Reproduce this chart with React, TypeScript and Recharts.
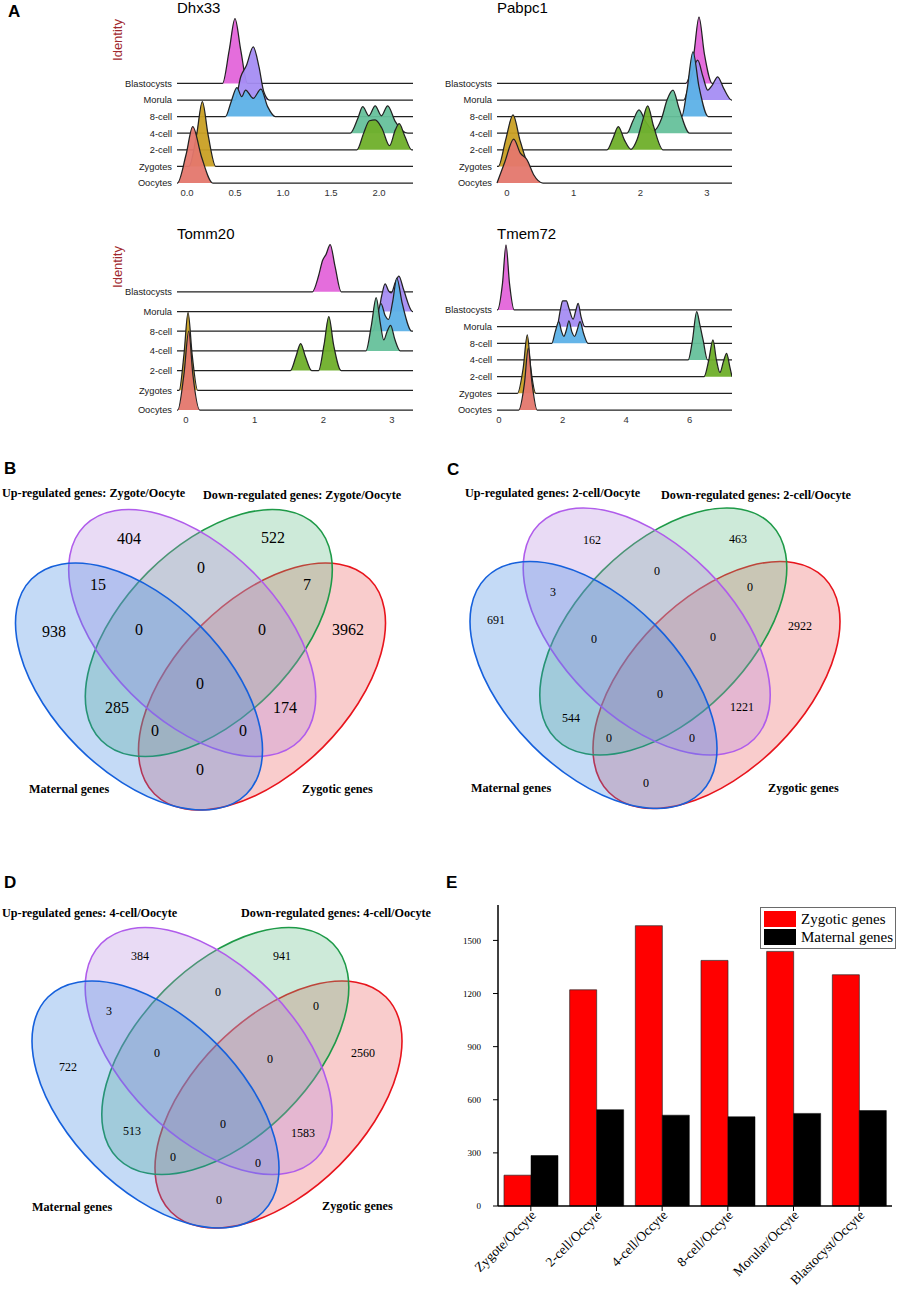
import React from 'react';
import { ComposedChart, Area, XAxis, YAxis, ScatterChart, Scatter, BarChart, Bar, Legend } from 'recharts';

const SANS = '"Liberation Sans", Arial, Helvetica, sans-serif';
const SERIF = '"Liberation Serif", "Times New Roman", Times, serif';

// ---------------- Panel A : ridge plots ----------------
const GROUPS = ['Oocytes', 'Zygotes', '2-cell', '4-cell', '8-cell', 'Morula', 'Blastocysts'];
const GROUP_COLORS = ['#E4776D', '#C9A024', '#6FAF2A', '#66C19B', '#5DB1E7', '#A58DF3', '#E365DA'];

const DHX33_TICKS = [0, 0.5, 1, 1.5, 2];
const PABPC1_TICKS = [0, 1, 2, 3];
const TOMM20_TICKS = [0, 1, 2, 3];
const TMEM72_TICKS = [0, 2, 4, 6];

const DHX33_DOMAIN = [-0.104, 2.354];
const PABPC1_DOMAIN = [-0.15, 3.375];
const TOMM20_DOMAIN = [-0.131, 3.306];
const TMEM72_DOMAIN = [-0.063, 7.33];

// density outlines [expression, height in rows] per group (Oocytes .. Blastocysts)
const DHX33 = [
  [[-0.1, 0], [-0.01, 1.7], [0.06, 3.4], [0.15, 1.6], [0.27, 0]],
  [[0.02, 0], [0.1, 1.9], [0.16, 3.9], [0.22, 1.9], [0.3, 0]],
  [[1.77, 0], [1.84, 1.0], [1.9, 1.75], [1.96, 1.8], [2.03, 1.3], [2.11, 0.25], [2.17, 1.2], [2.21, 1.57], [2.27, 0.8], [2.34, 0]],
  [[1.7, 0], [1.78, 0.9], [1.83, 1.6], [1.895, 1.05], [1.96, 1.65], [2.025, 1.05], [2.09, 1.65], [2.17, 0.7], [2.3, 0]],
  [[0.4, 0], [0.46, 0.9], [0.52, 1.75], [0.57, 1.2], [0.61, 1.6], [0.69, 1.1], [0.77, 1.65], [0.84, 0.6], [0.92, 0]],
  [[0.5, 0], [0.56, 1.4], [0.62, 2.1], [0.69, 3.2], [0.75, 2.0], [0.8, 0.5], [0.86, 0]],
  [[0.37, 0], [0.44, 2.0], [0.5, 3.9], [0.56, 2.0], [0.63, 0]],
];
const PABPC1 = [
  [[-0.15, 0], [-0.03, 1.3], [0.1, 2.65], [0.2, 1.8], [0.3, 1.4], [0.4, 0.5], [0.54, 0]],
  [[-0.13, 0], [-0.02, 1.6], [0.09, 3.1], [0.2, 1.5], [0.35, 0]],
  [[1.5, 0], [1.59, 0.7], [1.67, 1.4], [1.76, 0.6], [1.86, 0.03], [1.95, 0.6], [2.03, 1.7], [2.11, 2.65], [2.2, 1.4], [2.34, 0]],
  [[1.8, 0], [1.89, 0.75], [1.98, 1.4], [2.08, 0.7], [2.2, 0.15], [2.32, 0.9], [2.4, 2.0], [2.49, 2.6], [2.58, 1.5], [2.74, 0]],
  [[2.62, 0], [2.7, 1.6], [2.79, 3.9], [2.88, 1.8], [3.02, 0]],
  [[2.65, 0], [2.75, 1.2], [2.86, 2.4], [2.94, 1.4], [3.01, 0.6], [3.08, 0.9], [3.16, 1.4], [3.25, 0.7], [3.37, 0]],
  [[2.68, 0], [2.8, 1.7], [2.88, 4.0], [2.96, 1.8], [3.08, 0]],
];
const TOMM20 = [
  [[-0.12, 0], [-0.03, 1.8], [0.04, 4.0], [0.1, 1.8], [0.2, 0]],
  [[-0.1, 0], [-0.03, 1.8], [0.03, 3.95], [0.09, 1.8], [0.17, 0]],
  [[1.52, 0], [1.6, 0.7], [1.67, 1.37], [1.74, 0.7], [1.83, 0], [1.93, 0], [2.01, 1.3], [2.08, 2.74], [2.15, 1.3], [2.26, 0]],
  [[2.62, 0], [2.7, 1.3], [2.77, 2.7], [2.83, 1.4], [2.88, 0.56], [2.93, 1.0], [2.98, 1.3], [3.04, 0.6], [3.12, 0]],
  [[2.72, 0], [2.78, 0.7], [2.84, 1.4], [2.9, 0.8], [2.95, 0.6], [3.01, 1.5], [3.07, 2.7], [3.15, 1.4], [3.29, 0]],
  [[2.8, 0], [2.85, 0.8], [2.9, 1.4], [2.95, 1.05], [2.99, 0.95], [3.05, 1.5], [3.1, 1.8], [3.17, 1.1], [3.3, 0]],
  [[1.84, 0], [1.93, 0.8], [1.99, 1.6], [2.04, 1.9], [2.1, 2.4], [2.17, 1.3], [2.26, 0]],
];
const TMEM72 = [
  [[0.62, 0], [0.8, 1.6], [0.92, 3.7], [1.04, 1.6], [1.2, 0]],
  [[0.58, 0], [0.76, 1.5], [0.89, 3.5], [1.0, 1.5], [1.16, 0]],
  [[6.45, 0], [6.6, 1.0], [6.73, 2.2], [6.84, 1.0], [6.95, 0.25], [7.06, 0.9], [7.16, 1.4], [7.26, 0.6], [7.33, 0]],
  [[5.95, 0], [6.08, 1.1], [6.22, 2.9], [6.32, 2.1], [6.42, 1.2], [6.56, 0]],
  [[1.66, 0], [1.77, 0.7], [1.88, 1.3], [1.97, 0.7], [2.04, 0.42], [2.12, 0.8], [2.2, 1.35], [2.29, 0.7], [2.38, 0.42], [2.46, 0.8], [2.55, 1.3], [2.66, 0.6], [2.8, 0]],
  [[1.82, 0], [1.93, 1.0], [2.0, 1.55], [2.12, 1.55], [2.2, 1.1], [2.33, 0.45], [2.42, 1.0], [2.49, 1.4], [2.58, 0.6], [2.7, 0]],
  [[-0.05, 0], [0.11, 1.6], [0.22, 3.9], [0.33, 1.6], [0.48, 0]],
];

// ---------------- Panels B, C, D : Venn diagrams ----------------
const SET_COLORS = [
  { stroke: '#1560DC', fill: '#3A84E1' }, // Maternal
  { stroke: '#B05CEB', fill: '#B687DE' }, // Up
  { stroke: '#1E9A48', fill: '#58B980' }, // Down
  { stroke: '#E8141C', fill: '#EB5555' }, // Zygotic
];
const ELLIPSE_GEOM = [
  { dx: -61.5, dy: 53.5, angle: 45 },
  { dx: -8.3, dy: 0, angle: 45 },
  { dx: 8.3, dy: 0, angle: -45 },
  { dx: 61.5, dy: 53.5, angle: -45 },
];
const ELLIPSE_RX = 152;
const ELLIPSE_RY = 86;
const DRAW_ORDER = [3, 2, 1, 0];

const VENN_B_NAMES = ['Up-regulated genes: Zygote/Oocyte', 'Down-regulated genes: Zygote/Oocyte', 'Maternal genes', 'Zygotic genes'];
const VENN_C_NAMES = ['Up-regulated genes: 2-cell/Oocyte', 'Down-regulated genes: 2-cell/Oocyte', 'Maternal genes', 'Zygotic genes'];
const VENN_D_NAMES = ['Up-regulated genes: 4-cell/Oocyte', 'Down-regulated genes: 4-cell/Oocyte', 'Maternal genes', 'Zygotic genes'];

const VENN_B_COUNTS = [404, 522, 0, 15, 7, 938, 0, 0, 3962, 0, 285, 174, 0, 0, 0];
const VENN_C_COUNTS = [162, 463, 0, 3, 0, 691, 0, 0, 2922, 0, 544, 1221, 0, 0, 0];
const VENN_D_COUNTS = [384, 941, 0, 3, 0, 722, 0, 0, 2560, 0, 513, 1583, 0, 0, 0];

// layout (page pixels)
const VENN_B_LAYOUT = {
  box: { x: 0, y: 450, w: 440, h: 390 }, center: [200.5, 633], countSize: 16,
  countPos: [[129, 538], [273, 537], [201, 567], [98, 584], [307, 584], [54, 631], [139, 629], [262, 629], [348, 629], [200, 683], [117, 707], [285, 707], [155, 730], [243, 730], [200, 769]],
  namePos: [[2, 493], [203, 495], [29, 789], [302, 789]],
};
const VENN_C_LAYOUT = {
  box: { x: 440, y: 450, w: 460, h: 390 }, center: [655, 631.5], countSize: 12,
  countPos: [[592, 540], [738, 539], [657, 571], [553, 592], [750, 587], [496, 620], [594, 639], [713, 637], [800, 626], [660, 694], [571, 718], [742, 707], [609, 738], [692, 738], [646, 783]],
  namePos: [[465, 493], [661, 495], [471, 788], [768, 788]],
};
const VENN_D_LAYOUT = {
  box: { x: 0, y: 860, w: 440, h: 400 }, center: [217, 1051], countSize: 12,
  countPos: [[140, 956], [282, 956], [218, 992], [109, 1011], [316, 1006], [68, 1067], [157, 1053], [270, 1059], [363, 1053], [223, 1124], [132, 1131], [303, 1133], [173, 1157], [258, 1163], [219, 1200]],
  namePos: [[2, 913], [241, 913], [32, 1207], [322, 1206]],
};

// ---------------- Panel E : bar chart ----------------
const BAR_CATEGORIES = ['Zygote/Occyte', '2-cell/Occyte', '4-cell/Occyte', '8-cell/Occyte', 'Morular/Occyte', 'Blastocyst/Occyte'];
const ZYGOTIC_COUNTS = [174, 1221, 1583, 1387, 1438, 1306];
const MATERNAL_COUNTS = [285, 544, 513, 504, 523, 539];
const BAR_Y_TICKS = [0, 300, 600, 900, 1200, 1500];
const LEGEND_ORDER = ['Zygotic genes', 'Maternal genes'];

const abs = (left: number, top: number) => ({ position: 'absolute' as const, left, top });

function RidgePanel({ title, ridges, domain, ticks, fmt, layout, identity }: any) {
  const { left, plotLeft, plotRight, plotTop, plotBottom, step, titleY, identityY } = layout;
  const yTop = (plotBottom - plotTop) / step;
  const series = ridges.map((pts: number[][], i: number) => {
    const rows: any[] = [];
    if (pts[0][0] > domain[0]) rows.push({ x: domain[0], v: i });
    pts.forEach(([x, h]) => rows.push({ x, v: i + h }));
    if (pts[pts.length - 1][0] < domain[1]) rows.push({ x: domain[1], v: i });
    return rows;
  });
  const order = [6, 5, 4, 3, 2, 1, 0];
  return (
    <>
      <div style={{ ...abs(plotLeft, titleY - 10), font: `15px ${SANS}`, lineHeight: '20px', color: '#000', whiteSpace: 'nowrap' }}>{title}</div>
      {identity && (
        <div style={{ ...abs(117, identityY), transform: 'translate(-50%,-50%) rotate(-90deg)', color: '#A0282D', font: `13px ${SANS}`, whiteSpace: 'nowrap' }}>Identity</div>
      )}
      <div style={abs(left, plotTop)}>
        <ComposedChart width={plotRight - left} height={plotBottom - plotTop + 22} margin={{ top: 0, right: 0, bottom: 0, left: 0 }}>
          <XAxis type="number" dataKey="x" domain={domain} ticks={ticks} tickFormatter={fmt} interval={0}
            axisLine={false} tickLine={false} tickSize={0} tickMargin={6} height={22}
            tick={{ fontSize: 9.5, fill: '#333', fontFamily: SANS }} />
          <YAxis type="number" domain={[0, yTop]} ticks={[0, 1, 2, 3, 4, 5, 6]} interval={0}
            tickFormatter={(v: number) => GROUPS[v]} width={plotLeft - left}
            axisLine={false} tickLine={false} tickSize={0} tickMargin={5}
            tick={{ fontSize: 9.3, fill: '#1a1a1a', fontFamily: SANS }} />
          {order.map((i) => (
            <Area key={GROUPS[i]} name={GROUPS[i]} data={series[i]} dataKey="v" type="monotone" baseValue={i}
              fill={GROUP_COLORS[i]} fillOpacity={0.95} stroke="#222" strokeWidth={1.25}
              dot={false} activeDot={false} isAnimationActive={false} />
          ))}
        </ComposedChart>
      </div>
    </>
  );
}

const EllipseShape = (p: any) => {
  const d = p.payload;
  return (
    <ellipse cx={p.cx} cy={p.cy} rx={ELLIPSE_RX} ry={ELLIPSE_RY} transform={`rotate(${d.angle} ${p.cx} ${p.cy})`}
      fill={d.fill} fillOpacity={0.3} stroke={d.stroke} strokeWidth={1.6} />
  );
};

function Venn({ names, counts, layout }: any) {
  const { box, center, countSize, countPos, namePos } = layout;
  const ellipses = DRAW_ORDER.map((i) => ({
    x: center[0] + ELLIPSE_GEOM[i].dx, y: center[1] + ELLIPSE_GEOM[i].dy, angle: ELLIPSE_GEOM[i].angle,
    fill: SET_COLORS[i].fill, stroke: SET_COLORS[i].stroke,
  }));
  const labels = counts.map((c: number, i: number) => ({ x: countPos[i][0], y: countPos[i][1], label: String(c) }));
  const nameData = names.map((n: string, i: number) => ({ x: namePos[i][0], y: namePos[i][1], label: n }));
  const CountShape = (p: any) => (
    <text x={p.cx} y={p.cy} textAnchor="middle" dominantBaseline="central" fontSize={countSize} fontFamily={SERIF} fill="#000">{p.payload.label}</text>
  );
  const NameShape = (p: any) => (
    <text x={p.cx} y={p.cy} textAnchor="start" dominantBaseline="central" fontSize={12.2} fontWeight="bold" fontFamily={SERIF} fill="#000">{p.payload.label}</text>
  );
  return (
    <div style={abs(box.x, box.y)}>
      <ScatterChart width={box.w} height={box.h} margin={{ top: 0, right: 0, bottom: 0, left: 0 }}>
        <XAxis type="number" dataKey="x" domain={[box.x, box.x + box.w]} hide />
        <YAxis type="number" dataKey="y" domain={[box.y, box.y + box.h]} reversed hide />
        <Scatter data={ellipses} shape={EllipseShape} isAnimationActive={false} />
        <Scatter data={labels} shape={CountShape} isAnimationActive={false} />
        <Scatter data={nameData} shape={NameShape} isAnimationActive={false} />
      </ScatterChart>
    </div>
  );
}

const RotTick = (p: any) => {
  const x = p.x + 6;
  const y = p.y + 3;
  return (
    <text x={x} y={y} transform={`rotate(-45 ${x} ${y})`} textAnchor="end" fontSize={13.5} fontFamily={SERIF} fill="#000">{p.payload.value}</text>
  );
};

const LegendBox = (props: any) => {
  const items = [...(props.payload || [])].sort((a: any, b: any) => LEGEND_ORDER.indexOf(a.value) - LEGEND_ORDER.indexOf(b.value));
  return (
    <div style={{ border: '1px solid #6a6a6a', background: '#fff', padding: '2px 2px 2px 3px', fontFamily: SERIF, fontSize: 15, lineHeight: '18px', color: '#000' }}>
      {items.map((p: any) => (
        <div key={p.value} style={{ display: 'flex', alignItems: 'center', height: 18 }}>
          <span style={{ display: 'inline-block', width: 32, height: 16, background: p.color, marginRight: 5 }} />
          <span>{p.value}</span>
        </div>
      ))}
    </div>
  );
};

const Letter = ({ x, y, t }: any) => (
  <div style={{ ...abs(x, y - 10), font: `bold 17px ${SANS}`, lineHeight: '20px', color: '#000' }}>{t}</div>
);

export default function App() {
  const barData = BAR_CATEGORIES.map((name, i) => ({ name, zygotic: ZYGOTIC_COUNTS[i], maternal: MATERNAL_COUNTS[i] }));
  return (
    <div style={{ position: 'absolute', left: 0, top: 0, width: 900, height: 1290, background: '#fff', overflow: 'hidden' }}>
      <Letter x={8} y={12} t="A" />
      <Letter x={4} y={469} t="B" />
      <Letter x={447} y={470} t="C" />
      <Letter x={4} y={883} t="D" />
      <Letter x={446} y={883} t="E" />

      <RidgePanel title="Dhx33" ridges={DHX33} domain={DHX33_DOMAIN} ticks={DHX33_TICKS} fmt={(v: number) => v.toFixed(1)} identity
        layout={{ left: 90, plotLeft: 177, plotRight: 413, plotTop: 15, plotBottom: 183, step: 16.6, titleY: 8, identityY: 40 }} />
      <RidgePanel title="Pabpc1" ridges={PABPC1} domain={PABPC1_DOMAIN} ticks={PABPC1_TICKS} fmt={(v: number) => String(v)}
        layout={{ left: 410, plotLeft: 497, plotRight: 732, plotTop: 15, plotBottom: 183, step: 16.6, titleY: 8 }} />
      <RidgePanel title="Tomm20" ridges={TOMM20} domain={TOMM20_DOMAIN} ticks={TOMM20_TICKS} fmt={(v: number) => String(v)} identity
        layout={{ left: 90, plotLeft: 177, plotRight: 413, plotTop: 238, plotBottom: 410, step: 19.7, titleY: 234, identityY: 267 }} />
      <RidgePanel title="Tmem72" ridges={TMEM72} domain={TMEM72_DOMAIN} ticks={TMEM72_TICKS} fmt={(v: number) => String(v)}
        layout={{ left: 410, plotLeft: 497, plotRight: 732, plotTop: 238, plotBottom: 410, step: 16.67, titleY: 234 }} />

      <Venn names={VENN_B_NAMES} counts={VENN_B_COUNTS} layout={VENN_B_LAYOUT} />
      <Venn names={VENN_C_NAMES} counts={VENN_C_COUNTS} layout={VENN_C_LAYOUT} />
      <Venn names={VENN_D_NAMES} counts={VENN_D_COUNTS} layout={VENN_D_LAYOUT} />

      <div style={abs(440, 905)}>
        <BarChart width={460} height={385} data={barData} margin={{ top: 0, right: 8, bottom: 0, left: 0 }} barGap={0}>
          <XAxis dataKey="name" interval={0} height={84} tickSize={5}
            axisLine={{ stroke: '#000', strokeWidth: 1.5 }} tickLine={{ stroke: '#000', strokeWidth: 1 }} tick={<RotTick />} />
          <YAxis type="number" domain={[0, 1700]} ticks={BAR_Y_TICKS} interval={0} width={58} tickSize={5} tickMargin={12}
            axisLine={{ stroke: '#000', strokeWidth: 1.5 }} tickLine={{ stroke: '#000', strokeWidth: 1 }}
            tick={{ fontSize: 9, fontFamily: SERIF, fill: '#000' }} />
          <Legend layout="horizontal" verticalAlign="middle" align="center" content={<LegendBox />}
            wrapperStyle={{ left: 320, top: 2, width: 'auto', height: 'auto' }} />
          <Bar dataKey="zygotic" name="Zygotic genes" fill="#FF0000" stroke="#2b2b2b" strokeWidth={0.7} barSize={27} isAnimationActive={false} />
          <Bar dataKey="maternal" name="Maternal genes" fill="#000000" stroke="#000" strokeWidth={0.5} barSize={27} isAnimationActive={false} />
        </BarChart>
      </div>
    </div>
  );
}
